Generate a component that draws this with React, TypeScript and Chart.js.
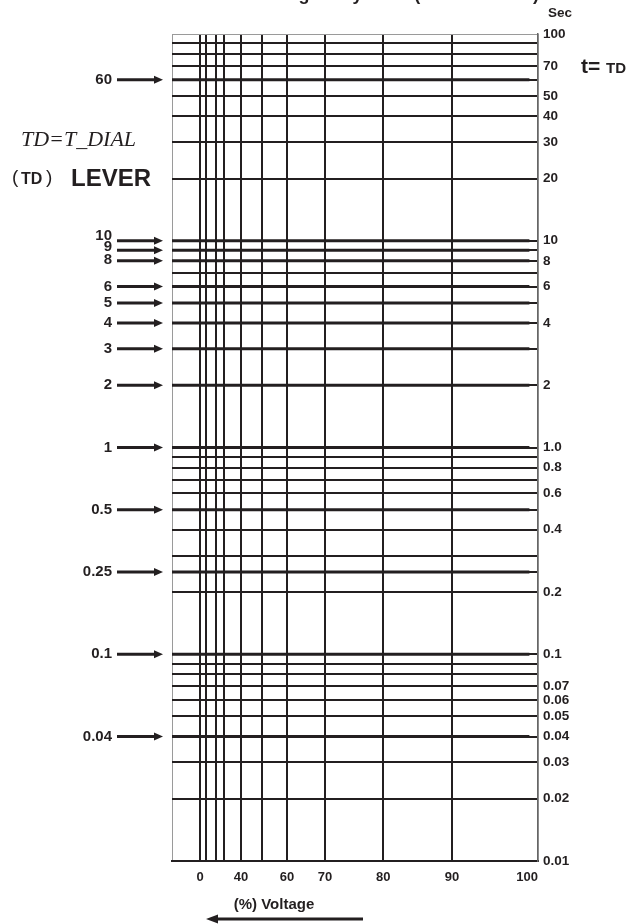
import React, { useEffect, useRef } from 'react';
import { Chart, registerables, LinearScale } from 'chart.js';

// ---------------- data ----------------
const VOLTAGE_GRID = [0, 10, 20, 30, 40, 50, 60, 70, 80, 90];
const VOLTAGE_LABELS = [0, 40, 60, 70, 80, 90, 100];
const VOLTAGE_MIN = -10;
const VOLTAGE_MAX = 100;
const TD_CURVE_END = 99;

const TIME_GRID = [
  100, 90, 80, 70, 60, 50, 40, 30, 20,
  10, 9, 8, 7, 6, 5, 4, 3, 2, 1,
  0.9, 0.8, 0.7, 0.6, 0.5, 0.4, 0.3, 0.25, 0.2,
  0.1, 0.09, 0.08, 0.07, 0.06, 0.05, 0.04, 0.03, 0.02, 0.01,
];
const TIME_LABELS = [
  100, 70, 50, 40, 30, 20, 10, 8, 6, 4, 2, 1,
  0.8, 0.6, 0.4, 0.2, 0.1, 0.07, 0.06, 0.05, 0.04, 0.03, 0.02, 0.01,
];
const TD_LEVERS = [60, 10, 9, 8, 6, 5, 4, 3, 2, 1, 0.5, 0.25, 0.1, 0.04];

// Non-linear voltage axis of the original chart (voltage -> fraction of axis width)
const AXIS_WARP_V = [-10, 0, 10, 20, 30, 40, 50, 60, 70, 80, 90, 100];
const AXIS_WARP_F = [0, 0.0765, 0.0929, 0.1202, 0.1421, 0.1885, 0.2459, 0.3142, 0.418, 0.5773, 0.765, 1];

const INK = '#231f20';
const SANS = '"Liberation Sans", Arial, Helvetica, sans-serif';
const SERIF = '"Liberation Serif", "Times New Roman", serif';

function interp(xs: number[], ys: number[], v: number): number {
  const n = xs.length;
  let i = 0;
  if (v <= xs[0]) i = 0;
  else if (v >= xs[n - 1]) i = n - 2;
  else {
    while (i < n - 2 && v > xs[i + 1]) i++;
  }
  const t = (v - xs[i]) / (xs[i + 1] - xs[i]);
  return ys[i] + t * (ys[i + 1] - ys[i]);
}

class WarpScale extends LinearScale {
  static id = 'warp';
  getPixelForValue(value: any) {
    if (value === null || value === undefined || isNaN(value)) return NaN;
    return this.getPixelForDecimal(interp(AXIS_WARP_V, AXIS_WARP_F, value));
  }
  getValueForPixel(pixel: number) {
    return interp(AXIS_WARP_F, AXIS_WARP_V, this.getDecimalForPixel(pixel));
  }
}

Chart.register(...registerables, WarpScale);

const fmtTime = (v: number) => (v === 1 ? '1.0' : String(v));
// crowded lever labels are nudged upward, as in the original
const leverNudge = (v: number) => (v === 10 ? -5 : v === 9 ? -3 : v === 8 ? -1 : 0);

const annotations = {
  id: 'annotations',
  afterDraw(chart: any) {
    const ctx = chart.ctx as CanvasRenderingContext2D;
    const y = chart.scales.y;
    ctx.save();
    ctx.fillStyle = INK;
    ctx.strokeStyle = INK;

    // title (clipped at top of page)
    ctx.font = `bold 18px ${SANS}`;
    ctx.textAlign = 'right';
    ctx.textBaseline = 'alphabetic';
    ctx.fillText('Timing Delay Time (Definite Time)', 539, 0);

    // Sec
    ctx.font = `bold 13.5px ${SANS}`;
    ctx.textAlign = 'left';
    ctx.textBaseline = 'middle';
    ctx.fillText('Sec', 548, 13);

    // t= TD
    ctx.textBaseline = 'alphabetic';
    ctx.font = `bold 21px ${SANS}`;
    ctx.fillText('t=', 581, 73);
    ctx.font = `bold 15px ${SANS}`;
    ctx.fillText('TD', 606, 73);

    // TD=T_DIAL
    ctx.font = `italic 22px ${SERIF}`;
    ctx.fillText('TD=T_DIAL', 21, 146);

    // (TD) LEVER
    ctx.font = `19px ${SANS}`;
    ctx.fillText('(', 12, 183);
    ctx.fillText(')', 46, 183);
    ctx.font = `bold 16px ${SANS}`;
    ctx.fillText('TD', 21, 184);
    ctx.font = `bold 24px ${SANS}`;
    ctx.fillText('LEVER', 71, 186);

    // TD lever labels with arrows
    ctx.font = `bold 15px ${SANS}`;
    ctx.textAlign = 'right';
    ctx.textBaseline = 'middle';
    TD_LEVERS.forEach((v) => {
      const py = y.getPixelForValue(v);
      ctx.fillText(String(v), 112, py + leverNudge(v));
      ctx.lineWidth = 3;
      ctx.beginPath();
      ctx.moveTo(117, py);
      ctx.lineTo(155, py);
      ctx.stroke();
      ctx.beginPath();
      ctx.moveTo(154, py - 4);
      ctx.lineTo(163, py);
      ctx.lineTo(154, py + 4);
      ctx.closePath();
      ctx.fill();
    });

    // (%) Voltage + arrow
    ctx.font = `bold 15px ${SANS}`;
    ctx.textAlign = 'center';
    ctx.fillText('(%) Voltage', 274, 905);
    ctx.lineWidth = 3;
    ctx.beginPath();
    ctx.moveTo(216, 919);
    ctx.lineTo(363, 919);
    ctx.stroke();
    ctx.beginPath();
    ctx.moveTo(206, 919);
    ctx.lineTo(218, 914.5);
    ctx.lineTo(218, 923.5);
    ctx.closePath();
    ctx.fill();

    ctx.restore();
  },
};

export default function App() {
  const ref = useRef<HTMLCanvasElement | null>(null);

  useEffect(() => {
    document.body.style.margin = '0';
    const canvas = ref.current;
    if (!canvas) return;

    const chart = new Chart(canvas, {
      type: 'line',
      data: {
        datasets: TD_LEVERS.map((td) => ({
          label: `TD ${td}`,
          data: [
            { x: VOLTAGE_MIN, y: td },
            { x: TD_CURVE_END, y: td },
          ],
          borderColor: INK,
          backgroundColor: INK,
          borderWidth: 3,
          pointRadius: 0,
          fill: false,
        })),
      },
      options: {
        animation: false,
        responsive: false,
        events: [],
        layout: { padding: { left: 172, top: 34, right: 0, bottom: 0 } },
        plugins: {
          legend: { display: false },
          tooltip: { enabled: false },
          title: { display: false },
        },
        scales: {
          x: {
            type: 'warp' as any,
            min: VOLTAGE_MIN,
            max: VOLTAGE_MAX,
            afterBuildTicks: (s: any) => {
              s.ticks = [VOLTAGE_MIN, ...VOLTAGE_GRID, VOLTAGE_MAX].map((v) => ({ value: v }));
            },
            afterFit: (s: any) => {
              s.height = 63;
            },
            grid: {
              drawTicks: false,
              color: (c: any) => {
                const v = c.tick && c.tick.value;
                if (v === VOLTAGE_MIN) return '#9a9a9a';
                if (v === VOLTAGE_MAX) return '#666666';
                return INK;
              },
              lineWidth: (c: any) => {
                const v = c.tick && c.tick.value;
                if (v === VOLTAGE_MIN) return 1;
                if (v === VOLTAGE_MAX) return 1.5;
                return 2;
              },
            },
            border: { color: INK, width: 2 },
            ticks: {
              autoSkip: false,
              maxRotation: 0,
              minRotation: 0,
              align: 'inner',
              padding: 9,
              color: INK,
              font: { family: SANS, size: 13, weight: 'bold' },
              callback: (v: any) => (VOLTAGE_LABELS.includes(Number(v)) ? String(v) : ''),
            },
          },
          y: {
            type: 'logarithmic',
            position: 'right',
            min: 0.01,
            max: 100,
            afterBuildTicks: (s: any) => {
              s.ticks = TIME_GRID.slice().reverse().map((v) => ({ value: v }));
            },
            afterFit: (s: any) => {
              s.width = 106;
            },
            grid: {
              drawTicks: false,
              color: (c: any) => (c.tick && c.tick.value === 100 ? '#9a9a9a' : INK),
              lineWidth: (c: any) => (c.tick && c.tick.value === 100 ? 1 : 2),
            },
            border: { color: '#666666', width: 1.5 },
            ticks: {
              autoSkip: false,
              padding: 5,
              color: INK,
              font: { family: SANS, size: 13.5, weight: 'bold' },
              callback: (v: any) => (TIME_LABELS.includes(Number(v)) ? fmtTime(Number(v)) : ''),
            },
          },
        },
      } as any,
      plugins: [annotations],
    });

    return () => chart.destroy();
  }, []);

  return (
    <div style={{ position: 'absolute', left: 0, top: 0, width: 644, height: 924, background: '#fff' }}>
      <canvas ref={ref} width={644} height={924} style={{ display: 'block', width: 644, height: 924 }} />
    </div>
  );
}
